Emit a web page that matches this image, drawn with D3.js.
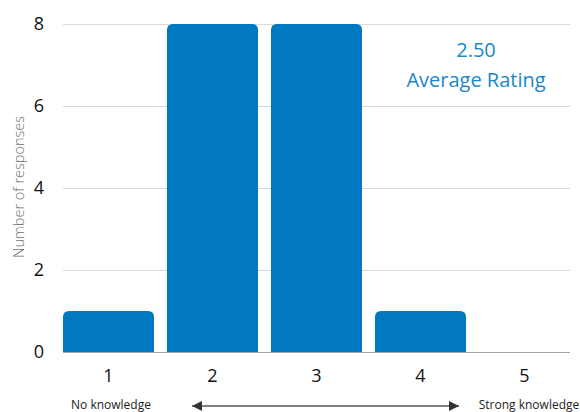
<!DOCTYPE html>
<html>
<head>
<meta charset="utf-8">
<script src="https://cdn.jsdelivr.net/npm/d3@7"></script>
<style>
  html, body { margin: 0; padding: 0; background: #fff; }
  svg { display: block; font-family: "Open Sans", "Noto Sans", sans-serif; }
</style>
</head>
<body>
<svg id="chart" width="580" height="412"></svg>
<script>
// Rating scale and how many responses each rating received
const ratings = ["1", "2", "3", "4", "5"];
const responses = [1, 8, 8, 1, 0];
const yTicks = [0, 2, 4, 6, 8];
const averageRating = "2.50";
const averageLabel = "Average Rating";
const scaleLow = "No knowledge";
const scaleHigh = "Strong knowledge";
const yTitle = "Number of responses";

(function draw() {
  const svg = d3.select("#chart");
  const plotLeft = 63, plotRight = 570, plotTop = 24, plotBottom = 352;
  const barColor = "#0079c1";

  const x = d3.scaleBand().domain(ratings).range([plotLeft, plotRight])
    .paddingInner(0.125).paddingOuter(0);
  const y = d3.scaleLinear().domain([0, 8]).range([plotBottom, plotTop]);

  // horizontal gridlines
  svg.append("g").selectAll("line").data(yTicks.filter(t => t > 0)).join("line")
    .attr("x1", plotLeft).attr("x2", plotRight)
    .attr("y1", d => y(d) + 0.5).attr("y2", d => y(d) + 0.5)
    .attr("stroke", "#d9d9d9").attr("stroke-width", 1);

  // y tick labels
  svg.append("g").selectAll("text").data(yTicks).join("text")
    .attr("x", 44).attr("y", d => y(d)).attr("dy", "0.36em")
    .attr("text-anchor", "end").attr("font-size", 18).attr("fill", "#111")
    .text(d => d);

  // y axis title
  svg.append("text")
    .attr("transform", `translate(24,${(plotTop + plotBottom) / 2 - 1}) rotate(-90)`)
    .attr("text-anchor", "middle").attr("font-size", 14.5).attr("fill", "#707070")
    .attr("font-weight", 300)
    .text(yTitle);

  // bars with rounded top corners
  const r = 6;
  function barPath(d, i) {
    const x0 = x(ratings[i]), w = x.bandwidth();
    const y0 = y(d), y1 = y(0);
    if (d <= 0) return "";
    const rr = Math.min(r, (y1 - y0));
    return `M${x0},${y1}V${y0 + rr}Q${x0},${y0} ${x0 + rr},${y0}` +
      `H${x0 + w - rr}Q${x0 + w},${y0} ${x0 + w},${y0 + rr}V${y1}Z`;
  }
  svg.append("g").selectAll("path").data(responses).join("path")
    .attr("d", barPath).attr("fill", barColor);

  // baseline
  svg.append("line").attr("x1", plotLeft).attr("x2", plotRight)
    .attr("y1", y(0) + 0.5).attr("y2", y(0) + 0.5)
    .attr("stroke", "#a6a6a6").attr("stroke-width", 1);

  // x tick labels
  svg.append("g").selectAll("text").data(ratings).join("text")
    .attr("x", d => x(d) + x.bandwidth() / 2).attr("y", 382)
    .attr("text-anchor", "middle").attr("font-size", 18).attr("fill", "#111")
    .text(d => d);

  // average rating callout
  const cx = 476;
  svg.append("text").attr("x", cx).attr("y", 57).attr("text-anchor", "middle")
    .attr("font-size", 20).attr("fill", "#1a87c9").text(averageRating);
  svg.append("text").attr("x", cx).attr("y", 87).attr("text-anchor", "middle")
    .attr("font-size", 20).attr("fill", "#1a87c9").text(averageLabel);

  // scale ends and double-headed arrow
  svg.append("text").attr("x", 111).attr("y", 409).attr("text-anchor", "middle")
    .attr("font-size", 12).attr("fill", "#222").text(scaleLow);
  svg.append("text").attr("x", 529).attr("y", 409).attr("text-anchor", "middle")
    .attr("font-size", 12).attr("fill", "#222").text(scaleHigh);

  const defs = svg.append("defs");
  defs.append("marker").attr("id", "ah").attr("viewBox", "0 0 10 10")
    .attr("refX", 10).attr("refY", 5).attr("markerWidth", 10).attr("markerHeight", 10)
    .attr("markerUnits", "userSpaceOnUse").attr("orient", "auto-start-reverse")
    .append("path").attr("d", "M0,0L10,5L0,10Z").attr("fill", "#333");
  svg.append("line").attr("x1", 192).attr("x2", 459).attr("y1", 406).attr("y2", 406)
    .attr("stroke", "#555").attr("stroke-width", 1.5)
    .attr("marker-start", "url(#ah)").attr("marker-end", "url(#ah)");
})();
</script>
</body>
</html>
